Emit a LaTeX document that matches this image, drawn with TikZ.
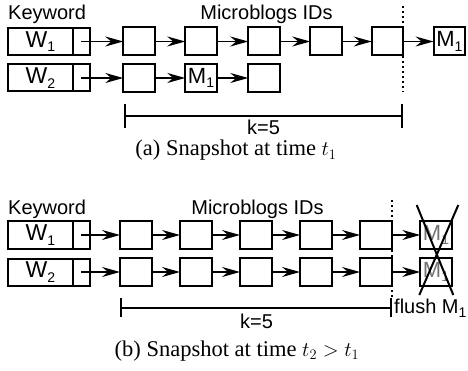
\documentclass[tikz,border=0pt]{standalone}
\usepackage{fontspec}
\setmainfont{Liberation Serif}
\newfontfamily\sansf{Liberation Sans}
\usetikzlibrary{arrows.meta}
\newcommand\lowsub[1]{\raisebox{-0.2em}{\fontsize{14}{14}\selectfont #1}}
\tikzset{
  lbl/.style={font=\sansf\fontsize{20}{24}\selectfont, inner sep=0pt},
  cell/.style={draw, line width=2pt, outer sep=0pt, minimum width=31.5pt, minimum height=28pt, inner sep=0pt,
    font=\sansf\fontsize{22}{24}\selectfont},
  kwleft/.style={draw, line width=2pt, outer sep=0pt, minimum width=64.7pt, minimum height=27pt, inner sep=0pt,
    font=\sansf\fontsize{23}{24}\selectfont},
  kwright/.style={draw, line width=2pt, outer sep=0pt, minimum width=17.3pt, minimum height=27pt, inner sep=0pt},
  link/.style={line width=1.6pt, arrows={-Stealth[length=18pt,width=10pt,inset=6pt]}},
  dots/.style={line width=2.2pt, dash pattern=on 2pt off 3pt},
  caption/.style={font=\fontsize{22.5}{26}\selectfont, inner sep=0pt},
  gonetext/.style={text=black!55},
  crossline/.style={line width=2pt},
}
\begin{document}
\begin{tikzpicture}[x=1pt,y=-1pt]
\useasboundingbox (0,0) rectangle (468,371);

% ---------- (a) ----------
\node[lbl, anchor=base west] (kwa) at (8,20) {Keyword};
\node[lbl, anchor=base] (mia) at (266.5,20) {Microblogs IDs};

\node[kwleft] (a1l) at (40.35,41.5) {W\lowsub{1}};
\node[kwright, anchor=west] (a1r) at (a1l.east) {};
\node[kwleft] (a2l) at (40.35,78) {W\lowsub{2}};
\node[kwright, anchor=west] (a2r) at (a2l.east) {};

\node[cell] (a11) at (139,41.5) {};
\node[cell] (a12) at (201,41.5) {};
\node[cell] (a13) at (264,41.5) {};
\node[cell] (a14) at (326,41.5) {};
\node[cell] (a15) at (387.5,41.5) {};
\node[cell] (a16) at (449.3,41.5) {M\lowsub{1}};

\node[cell] (a21) at (139,78) {};
\node[cell] (a22) at (201,78) {M\lowsub{1}};
\node[cell] (a23) at (264,78) {};

\draw[link] (a1r.center) -- (a11.west);
\draw[link] (a11) -- (a12);
\draw[link] (a12) -- (a13);
\draw[link] (a13) -- (a14);
\draw[link] (a14) -- (a15);
\draw[link] (a15) -- (a16);
\draw[link] (a2r.center) -- (a21.west);
\draw[link] (a21) -- (a22);
\draw[link] (a22) -- (a23);

\coordinate (adt) at (403.3,6);
\coordinate (adb) at (403.3,92);
\draw[dots] (adt) -- (adb);

\coordinate (ara) at (124,116);
\coordinate (arb) at (403.3,116);
\draw[line width=2pt, {Bar[width=24pt]}-{Bar[width=24pt]}] (ara) -- (arb);
\node[lbl, anchor=base, text depth=0pt] (ka) at (263.5,135) {k=5};

\node[caption, anchor=base] (capa) at (236,156) {(a) Snapshot at time $t_1$};

% ---------- (b) ----------
\node[lbl, anchor=base west] (kwb) at (8,215) {Keyword};
\node[lbl, anchor=base] (mib) at (257.5,215) {Microblogs IDs};

\node[kwleft] (b1l) at (40.35,235) {W\lowsub{1}};
\node[kwright, anchor=west] (b1r) at (b1l.east) {};
\node[kwleft] (b2l) at (40.35,272) {W\lowsub{2}};
\node[kwright, anchor=west] (b2r) at (b2l.east) {};

\node[cell] (b11) at (135.8,235) {};
\node[cell] (b12) at (195.8,235) {};
\node[cell] (b13) at (255.8,235) {};
\node[cell] (b14) at (315.8,235) {};
\node[cell] (b15) at (375.8,235) {};
\node[cell, gonetext] (b16) at (436,235) {M\lowsub{1}};

\node[cell] (b21) at (135.8,272) {};
\node[cell] (b22) at (195.8,272) {};
\node[cell] (b23) at (255.8,272) {};
\node[cell] (b24) at (315.8,272) {};
\node[cell] (b25) at (375.8,272) {};
\node[cell, gonetext] (b26) at (436,272) {M\lowsub{1}};

\draw[link] (b1r.center) -- (b11.west);
\draw[link] (b11) -- (b12);
\draw[link] (b12) -- (b13);
\draw[link] (b13) -- (b14);
\draw[link] (b14) -- (b15);
\draw[link] (b15) -- (b16);
\draw[link] (b2r.center) -- (b21.west);
\draw[link] (b21) -- (b22);
\draw[link] (b22) -- (b23);
\draw[link] (b23) -- (b24);
\draw[link] (b24) -- (b25);
\draw[link] (b25) -- (b26);

\coordinate (bdt) at (391.6,200);
\coordinate (bdb) at (391.6,298);
\draw[dots] (bdt) -- (bdb);

\coordinate (xa) at (416.7,205);
\coordinate (xb) at (453.3,295);
\coordinate (xc) at (458.3,205);
\coordinate (xd) at (419.3,295);
\draw[crossline] (xa) -- (xb);
\draw[crossline] (xc) -- (xd);

\coordinate (bra) at (120,307.5);
\coordinate (brb) at (391.6,307.5);
\draw[line width=2pt, {Bar[width=19pt]}-{Bar[width=19pt]}] (bra) -- (brb);
\node[lbl, anchor=base] (kb) at (256.5,328) {k=5};
\node[lbl, anchor=west] (fl) at (394,308.5) {flush M\lowsub{1}};

\node[caption, anchor=base] (capb) at (237,356) {(b) Snapshot at time $t_2 > t_1$};
\end{tikzpicture}
\end{document}
